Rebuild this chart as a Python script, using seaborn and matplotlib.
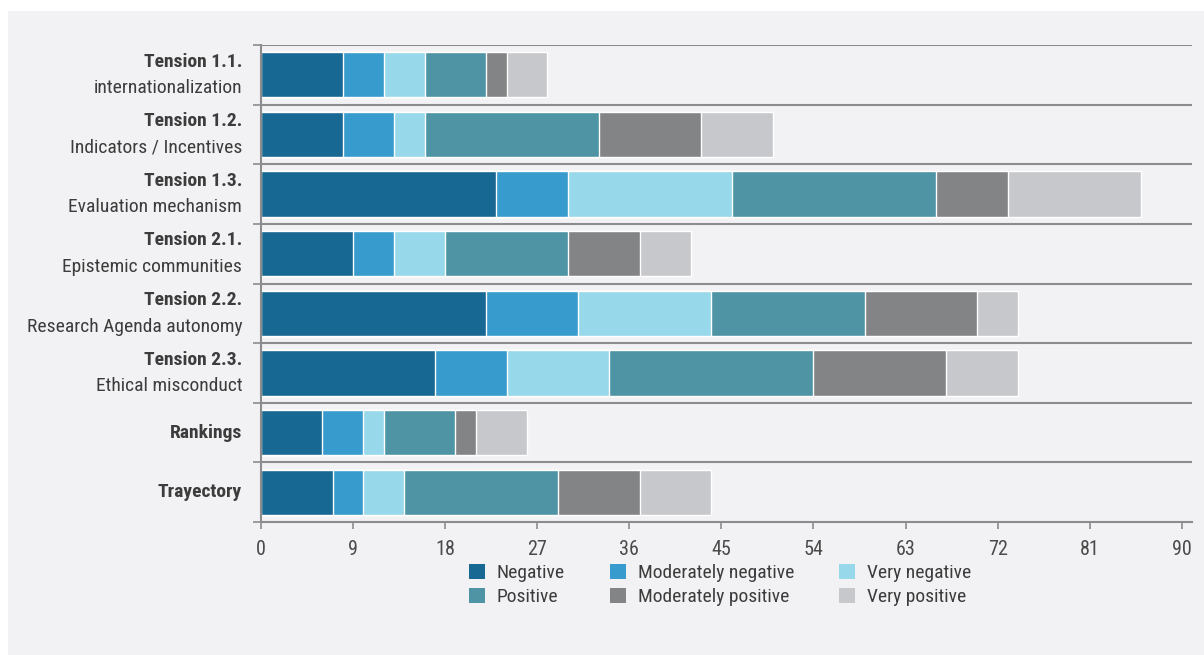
import matplotlib
matplotlib.use("Agg")
import matplotlib.pyplot as plt
from matplotlib import font_manager
from matplotlib.patches import Patch
import numpy as np
import pandas as pd
import seaborn as sns

# Response counts per tension, split by sentiment
categories = ["Tension 1.1.", "Tension 1.2.", "Tension 1.3.", "Tension 2.1.",
              "Tension 2.2.", "Tension 2.3.", "Rankings", "Trayectory"]
subtitles = ["internationalization", "Indicators / Incentives", "Evaluation mechanism",
             "Epistemic communities", "Research Agenda autonomy", "Ethical misconduct", "", ""]
series = ["Negative", "Moderately negative", "Very negative",
          "Positive", "Moderately positive", "Very positive"]
negative = [8, 8, 23, 9, 22, 17, 6, 7]
moderately_negative = [4, 5, 7, 4, 9, 7, 4, 3]
very_negative = [4, 3, 16, 5, 13, 10, 2, 4]
positive = [6, 17, 20, 12, 15, 20, 7, 15]
moderately_positive = [2, 10, 7, 7, 11, 13, 2, 8]
very_positive = [4, 7, 13, 5, 4, 7, 5, 7]
x_ticks = [0, 9, 18, 27, 36, 45, 54, 63, 72, 81, 90]

colors = ["#176892", "#389bcd", "#97d8eb", "#4f94a4", "#838486", "#c7c8cb"]

values = [negative, moderately_negative, very_negative,
          positive, moderately_positive, very_positive]
df = pd.DataFrame({name: vals for name, vals in zip(series, values)})
df["category"] = categories
cum = df[series].cumsum(axis=1)
cum["category"] = categories

# Prefer a narrow sans face when one is installed
entries = font_manager.fontManager.ttflist
names = {f.name for f in entries}
narrow_family = None
for cand in ["Roboto Condensed", "Liberation Sans Narrow", "Open Sans Condensed",
             "Noto Sans Condensed"]:
    if cand in names:
        narrow_family = cand
        break
if narrow_family is None:
    cond = [f.name for f in entries if "condensed" in str(f.stretch).lower()
            or "narrow" in f.name.lower() or "condensed" in f.name.lower()]
    narrow_family = cond[0] if cond else "Liberation Sans"

sns.set_theme(style="white")
plt.rcParams["font.family"] = [narrow_family, "DejaVu Sans"]
plt.rcParams["font.stretch"] = "condensed"

panel = "#f2f2f4"
text_col = "#3c3c3c"
line_col = "#8c8c8e"

fig = plt.figure(figsize=(12.04, 6.55), dpi=100)
fig.patch.set_facecolor("white")
fig.patches.append(plt.Rectangle((8 / 1204, 0), 1 - 8 / 1204, 1 - 11 / 655,
                                 transform=fig.transFigure, facecolor=panel,
                                 edgecolor="none", zorder=-5))

ax = fig.add_axes([261 / 1204, 1 - 522 / 655, (1192 - 261) / 1204, (522 - 45) / 655])
ax.set_zorder(2)
ax.set_facecolor(panel)

# Stacked bars: draw cumulative totals from the outermost segment inward
for name, col in reversed(list(zip(series, colors))):
    sns.barplot(data=cum, y="category", x=name, order=categories, color=col,
                orient="h", width=0.76, saturation=1, ax=ax, zorder=2)

ax.set_xlim(0, 91)
ax.set_ylim(len(categories) - 0.5, -0.5)
ax.set_xlabel("")
ax.set_ylabel("")

# Row separators
for k in range(len(categories)):
    ax.axhline(k - 0.5, color=line_col, lw=1.5, zorder=3)

for side in ["top", "right"]:
    ax.spines[side].set_visible(False)
for side in ["left", "bottom"]:
    ax.spines[side].set_color(line_col)
    ax.spines[side].set_linewidth(1.5)
    ax.spines[side].set_zorder(4)

ax.set_xticks(x_ticks)
ax.set_xticklabels([str(t) for t in x_ticks], fontsize=14.5, color="#4a4a4a")
ax.tick_params(axis="x", direction="out", length=5, width=1.2, color=line_col, pad=8,
               bottom=True)
ax.set_yticks(np.arange(len(categories)))
ax.set_yticklabels([])
ax.tick_params(axis="y", length=0)
ax.set_yticks(np.arange(len(categories) + 1) - 0.5, minor=True)
ax.tick_params(axis="y", which="minor", direction="out", length=6, width=1.2,
               color=line_col, left=True)

# Category labels: bold title with an optional subtitle below
for i, (title, sub) in enumerate(zip(categories, subtitles)):
    if sub:
        ax.annotate(title, xy=(0, i), xycoords=("axes fraction", "data"),
                    xytext=(-13.5, 9.5), textcoords="offset points", ha="right",
                    va="center", fontsize=14, fontweight="bold", color=text_col)
        ax.annotate(sub, xy=(0, i), xycoords=("axes fraction", "data"),
                    xytext=(-13.5, -9.5), textcoords="offset points", ha="right",
                    va="center", fontsize=14, color=text_col)
    else:
        ax.annotate(title, xy=(0, i), xycoords=("axes fraction", "data"),
                    xytext=(-13.5, 0), textcoords="offset points", ha="right",
                    va="center", fontsize=14, fontweight="bold", color=text_col)

# Legend laid out as two rows of three
order = [0, 3, 1, 4, 2, 5]
handles = [Patch(facecolor=colors[i], edgecolor="none") for i in order]
labels = [series[i] for i in order]
fig.legend(handles, labels, ncol=3, loc="upper left",
           bbox_to_anchor=(451 / 1204, 1 - 546 / 655), frameon=False,
           fontsize=14, labelcolor=text_col, handlelength=0.85, handleheight=0.85,
           handletextpad=0.6, columnspacing=2.3, labelspacing=0.3)

fig.savefig("out.png", dpi=100, facecolor=fig.get_facecolor())
